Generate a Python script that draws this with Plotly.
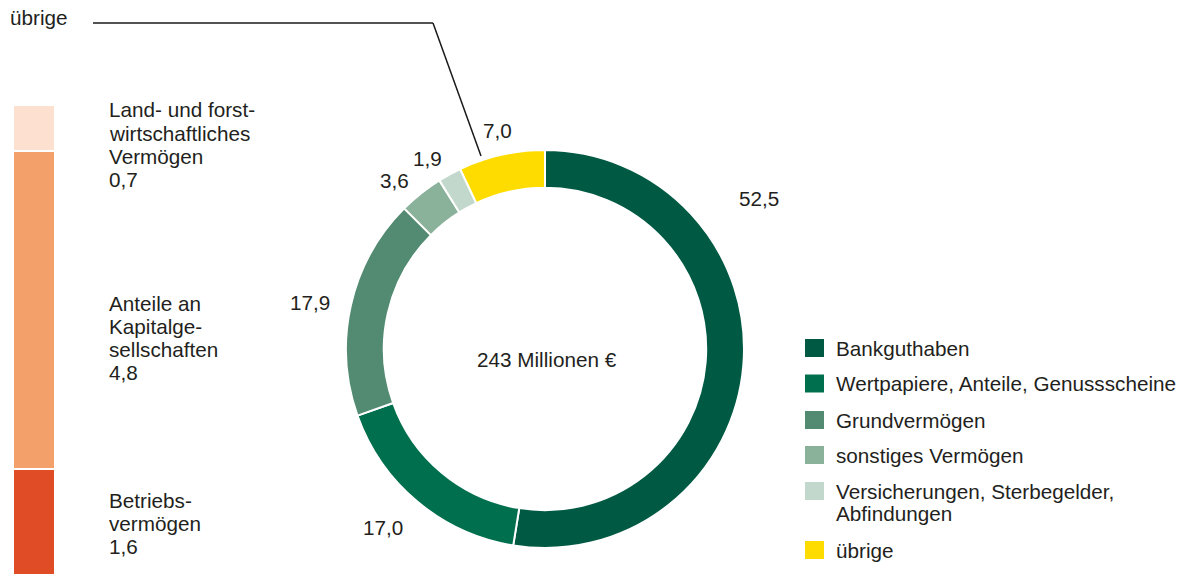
import plotly.graph_objects as go

W, H = 1185, 577

# Vermögensarten (Anteile in %)
categories = [
    "Bankguthaben",
    "Wertpapiere, Anteile, Genussscheine",
    "Grundvermögen",
    "sonstiges Vermögen",
    "Versicherungen, Sterbegelder,\nAbfindungen",
    "übrige",
]
values = [52.5, 17.0, 17.9, 3.6, 1.9, 7.0]
colors = ["#005a43", "#006f4e", "#528b71", "#8ab29b", "#c2d8cc", "#ffdc00"]

# Aufteilung von "übrige" (von unten nach oben)
sub_categories = [
    "Betriebs-\nvermögen",
    "Anteile an\nKapitalge-\nsellschaften",
    "Land- und forst-\nwirtschaftliches\nVermögen",
]
sub_values = [1.6, 4.8, 0.7]
sub_colors = ["#e04c26", "#f3a06b", "#fde0d0"]

total_label = "243 Millionen €"
other_label = "übrige"

TEXT = "#231f20"
FONT = "Liberation Sans, Arial, sans-serif"
FS = 20.7


def px(x):
    return x / W


def py(y):
    return 1 - y / H


def de(v):
    return f"{v:.1f}".replace(".", ",")


annotations = []
shapes = []


def add_text(x, y, text, anchor="left", size=FS, spacing=23.3):
    for i, line in enumerate(text.split("\n")):
        annotations.append(dict(
            x=px(x), y=py(y + i * spacing), xref="paper", yref="paper",
            text=line, showarrow=False, xanchor=anchor, yanchor="middle",
            font=dict(family=FONT, size=size, color=TEXT),
        ))


fig = go.Figure()

# Donut
cx, cy, r = 545, 349, 199
fig.add_trace(go.Pie(
    labels=[c.replace("\n", " ") for c in categories],
    values=values,
    marker=dict(colors=colors, line=dict(color="white", width=2)),
    hole=0.81,
    sort=False,
    direction="clockwise",
    rotation=0,
    textinfo="none",
    hoverinfo="label+value",
    showlegend=False,
    domain=dict(x=[px(cx - r), px(cx + r)], y=[py(cy + r), py(cy - r)]),
))

# Donut value labels
label_pos = [(759, 198), (383, 527), (310, 302), (394, 180), (427, 158), (497, 131)]
for v, (lx, ly) in zip(values, label_pos):
    add_text(lx, ly, de(v), anchor="center")

add_text(547, 359, total_label, anchor="center")

# Stacked bar for "übrige"
for name, v, c in zip(sub_categories, sub_values, sub_colors):
    fig.add_trace(go.Bar(
        x=[0], y=[v], name=name.replace("\n", " "),
        marker=dict(color=c, line=dict(color="white", width=2)),
        width=1, showlegend=False,
        hovertemplate=name.replace("\n", " ") + ": %{y}<extra></extra>",
    ))

sub_text_y = [500, 303, 110]
for name, v, ty in zip(sub_categories, sub_values, sub_text_y):
    add_text(107, ty, name + "\n" + de(v))

# Leader line from the "übrige" label to its slice
add_text(8, 18, other_label)
line_style = dict(color="#1a1a1a", width=1.5)
shapes.append(dict(type="line", xref="paper", yref="paper",
                   x0=px(93), y0=py(23), x1=px(433), y1=py(23), line=line_style))
shapes.append(dict(type="line", xref="paper", yref="paper",
                   x0=px(433), y0=py(23), x1=px(481), y1=py(156), line=line_style))

# Legend
legend_rows = [348, 383.5, 420, 455, 491, 550]
for name, c, ry in zip(categories, colors, legend_rows):
    shapes.append(dict(type="rect", xref="paper", yref="paper",
                       x0=px(805), x1=px(824), y0=py(ry + 9), y1=py(ry - 9),
                       fillcolor=c, line=dict(width=0)))
    add_text(834, ry, name, spacing=22.5)

fig.update_layout(
    width=W, height=H,
    margin=dict(l=0, r=0, t=0, b=0),
    paper_bgcolor="white", plot_bgcolor="white",
    barmode="stack",
    xaxis=dict(domain=[px(13), px(55)], range=[-0.5, 0.5], visible=False, fixedrange=True),
    yaxis=dict(domain=[py(575), py(105)], range=[0, sum(sub_values)], visible=False, fixedrange=True),
    annotations=annotations,
    shapes=shapes,
    font=dict(family=FONT, size=FS, color=TEXT),
)

fig.write_html("out.html")
